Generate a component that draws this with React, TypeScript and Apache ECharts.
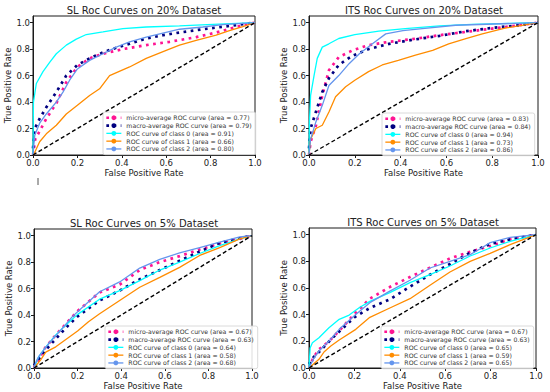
import React, { useEffect, useRef } from 'react';
import * as echarts from 'echarts';

const FONT = 'DejaVu Sans';

const panelTitles = [
  'SL Roc Curves on 20% Dataset',
  'ITS Roc Curves on 20% Dataset',
  'SL Roc Curves on 5% Dataset',
  'ITS Roc Curves on 5% Dataset',
];
const tickValues = [0, 0.2, 0.4, 0.6, 0.8, 1.0];
const xAxisName = 'False Positive Rate';
const yAxisName = 'True Positive Rate';
const curveLabels = [
  'micro-average ROC curve',
  'macro-average ROC curve',
  'ROC curve of class 0',
  'ROC curve of class 1',
  'ROC curve of class 2',
];

const areasSL20 = [0.77, 0.79, 0.91, 0.66, 0.8];
const areasITS20 = [0.83, 0.84, 0.94, 0.73, 0.86];
const areasSL5 = [0.67, 0.63, 0.64, 0.58, 0.68];
const areasITS5 = [0.67, 0.63, 0.65, 0.59, 0.65];

// SL, 20% dataset
const sl20Micro = [[0, 0], [0.005, 0.06], [0.01, 0.12], [0.03, 0.18], [0.06, 0.275], [0.105, 0.39], [0.15, 0.55], [0.2, 0.665], [0.255, 0.73], [0.315, 0.765], [0.405, 0.8], [0.51, 0.83], [0.615, 0.855], [0.735, 0.89], [0.825, 0.925], [0.915, 0.967], [1, 1]];
const sl20Macro = [[0, 0.05], [0.008, 0.2], [0.03, 0.275], [0.06, 0.36], [0.105, 0.475], [0.15, 0.6], [0.2, 0.68], [0.255, 0.73], [0.315, 0.775], [0.375, 0.81], [0.435, 0.84], [0.51, 0.88], [0.585, 0.905], [0.66, 0.925], [0.765, 0.95], [0.885, 0.975], [1, 1]];
const sl20Class0 = [[0, 0], [0.002, 0.4], [0.015, 0.54], [0.045, 0.63], [0.075, 0.7], [0.105, 0.765], [0.15, 0.83], [0.195, 0.875], [0.24, 0.91], [0.315, 0.93], [0.405, 0.955], [0.51, 0.967], [0.66, 0.975], [0.81, 0.987], [1, 1]];
const sl20Class1 = [[0, 0], [0.008, 0.02], [0.03, 0.1], [0.06, 0.16], [0.105, 0.225], [0.15, 0.31], [0.2, 0.375], [0.255, 0.45], [0.3, 0.5], [0.345, 0.6], [0.435, 0.665], [0.51, 0.73], [0.6, 0.79], [0.66, 0.83], [0.735, 0.866], [0.825, 0.905], [0.885, 0.94], [0.945, 0.97], [1, 1]];
const sl20Class2 = [[0, 0], [0.005, 0.1], [0.008, 0.15], [0.03, 0.24], [0.06, 0.31], [0.105, 0.4], [0.135, 0.475], [0.165, 0.565], [0.2, 0.65], [0.255, 0.715], [0.315, 0.765], [0.375, 0.815], [0.435, 0.855], [0.51, 0.89], [0.585, 0.92], [0.66, 0.95], [0.765, 0.967], [0.855, 0.985], [1, 1]];

// ITS, 20% dataset
const its20Micro = [[0, 0], [0.007, 0.1], [0.03, 0.22], [0.058, 0.45], [0.087, 0.64], [0.13, 0.74], [0.19, 0.79], [0.26, 0.83], [0.35, 0.855], [0.45, 0.875], [0.57, 0.905], [0.685, 0.93], [0.8, 0.955], [0.917, 0.98], [1, 1]];
const its20Macro = [[0, 0.05], [0.007, 0.2], [0.03, 0.325], [0.058, 0.475], [0.087, 0.58], [0.13, 0.68], [0.19, 0.75], [0.26, 0.8], [0.35, 0.84], [0.45, 0.87], [0.57, 0.9], [0.685, 0.935], [0.8, 0.96], [0.917, 0.98], [1, 1]];
const its20Class0 = [[0, 0], [0.002, 0.25], [0.007, 0.45], [0.022, 0.6], [0.036, 0.73], [0.058, 0.815], [0.087, 0.84], [0.13, 0.88], [0.2, 0.91], [0.305, 0.935], [0.42, 0.955], [0.57, 0.975], [0.71, 0.987], [1, 1]];
const its20Class1 = [[0, 0], [0.007, 0.12], [0.03, 0.2], [0.058, 0.225], [0.087, 0.325], [0.116, 0.44], [0.16, 0.515], [0.2, 0.565], [0.26, 0.63], [0.32, 0.68], [0.39, 0.715], [0.465, 0.755], [0.54, 0.79], [0.61, 0.84], [0.685, 0.88], [0.757, 0.915], [0.86, 0.96], [0.93, 0.98], [1, 1]];
const its20Class2 = [[0, 0], [0.007, 0.12], [0.03, 0.25], [0.058, 0.375], [0.087, 0.525], [0.13, 0.6], [0.175, 0.69], [0.22, 0.765], [0.277, 0.84], [0.335, 0.915], [0.41, 0.94], [0.495, 0.955], [0.64, 0.98], [1, 1]];

// SL, 5% dataset
const sl5Micro = [[0, 0], [0.05, 0.15], [0.1, 0.25], [0.15, 0.34], [0.2, 0.43], [0.3, 0.57], [0.393, 0.63], [0.485, 0.74], [0.577, 0.8], [0.668, 0.845], [0.76, 0.895], [0.852, 0.94], [0.944, 0.975], [1, 1]];
const sl5Macro = [[0, 0.02], [0.05, 0.13], [0.1, 0.22], [0.15, 0.31], [0.2, 0.39], [0.301, 0.51], [0.393, 0.585], [0.485, 0.67], [0.577, 0.74], [0.668, 0.81], [0.76, 0.88], [0.852, 0.945], [0.944, 0.98], [1, 1]];
const sl5Class0 = [[0, 0], [0.02, 0.08], [0.05, 0.15], [0.1, 0.25], [0.15, 0.33], [0.2, 0.405], [0.301, 0.52], [0.393, 0.585], [0.485, 0.66], [0.577, 0.74], [0.668, 0.8], [0.76, 0.865], [0.852, 0.925], [0.944, 0.975], [1, 1]];
const sl5Class1 = [[0, 0], [0.03, 0.06], [0.054, 0.12], [0.1, 0.16], [0.2, 0.28], [0.25, 0.35], [0.301, 0.41], [0.393, 0.51], [0.485, 0.61], [0.577, 0.685], [0.668, 0.76], [0.76, 0.85], [0.852, 0.91], [0.944, 0.975], [1, 1]];
const sl5Class2 = [[0, 0], [0.01, 0.05], [0.023, 0.09], [0.07, 0.19], [0.12, 0.28], [0.177, 0.39], [0.23, 0.47], [0.301, 0.576], [0.393, 0.65], [0.454, 0.72], [0.485, 0.755], [0.577, 0.82], [0.668, 0.87], [0.76, 0.91], [0.852, 0.95], [0.944, 0.99], [1, 1]];

// ITS, 5% dataset
const its5Micro = [[0, 0], [0.02, 0.08], [0.044, 0.14], [0.088, 0.2], [0.133, 0.28], [0.206, 0.415], [0.268, 0.52], [0.356, 0.607], [0.445, 0.683], [0.533, 0.753], [0.621, 0.822], [0.71, 0.872], [0.798, 0.915], [0.886, 0.965], [1, 1]];
const its5Macro = [[0, 0.03], [0.02, 0.08], [0.044, 0.12], [0.1, 0.22], [0.2, 0.38], [0.268, 0.45], [0.356, 0.515], [0.445, 0.61], [0.533, 0.7], [0.621, 0.78], [0.71, 0.865], [0.798, 0.93], [0.886, 0.965], [1, 1]];
const its5Class0 = [[0, 0], [0.005, 0.15], [0.015, 0.19], [0.044, 0.227], [0.088, 0.302], [0.133, 0.365], [0.177, 0.397], [0.221, 0.452], [0.268, 0.5], [0.356, 0.565], [0.445, 0.64], [0.533, 0.7], [0.621, 0.765], [0.71, 0.84], [0.798, 0.9], [0.886, 0.95], [1, 1]];
const its5Class1 = [[0, 0], [0.02, 0.03], [0.044, 0.065], [0.066, 0.12], [0.096, 0.165], [0.133, 0.21], [0.206, 0.29], [0.268, 0.38], [0.356, 0.45], [0.445, 0.52], [0.533, 0.62], [0.621, 0.72], [0.71, 0.8], [0.798, 0.86], [0.886, 0.925], [1, 1]];
const its5Class2 = [[0, 0], [0.02, 0.07], [0.044, 0.127], [0.088, 0.202], [0.133, 0.29], [0.206, 0.402], [0.268, 0.49], [0.356, 0.577], [0.445, 0.658], [0.533, 0.75], [0.621, 0.8], [0.71, 0.85], [0.73, 0.87], [0.76, 0.9], [0.798, 0.94], [0.886, 0.98], [1, 1]];

const chanceLine = [[0, 0], [1, 1]];

const panelCurves = [
  [sl20Micro, sl20Macro, sl20Class0, sl20Class1, sl20Class2],
  [its20Micro, its20Macro, its20Class0, its20Class1, its20Class2],
  [sl5Micro, sl5Macro, sl5Class0, sl5Class1, sl5Class2],
  [its5Micro, its5Macro, its5Class0, its5Class1, its5Class2],
];
const panelAreas = [areasSL20, areasITS20, areasSL5, areasITS5];

// layout (positions/sizes)
const layouts = [
  { grid: { left: 33, top: 16, width: 222, height: 139 }, title: [144, 10], legend: { left: 103, top: 112 }, yGap: 20 },
  { grid: { left: 309, top: 16, width: 229, height: 139 }, title: [424, 10], legend: { left: 382, top: 113 }, yGap: 21 },
  { grid: { left: 34, top: 229, width: 218, height: 139 }, title: [144, 223], legend: { left: 105, top: 326 }, yGap: 18 },
  { grid: { left: 309, top: 228, width: 227, height: 140 }, title: [423, 222], legend: { left: 381, top: 326 }, yGap: 20 },
];

const curveStyles = [
  { color: '#ff1493', width: 2.7, type: [2.7, 4.5] as any },
  { color: '#000080', width: 2.7, type: [2.7, 4.5] as any },
  { color: '#00ffff', width: 1.3, type: 'solid' as any },
  { color: '#ff8c00', width: 1.3, type: 'solid' as any },
  { color: '#6495ed', width: 1.3, type: 'solid' as any },
];

const fmt = (v: number) => v.toFixed(1);

export default function App() {
  const ref = useRef<HTMLDivElement>(null);
  useEffect(() => {
    document.body.style.margin = '0';
    if (!ref.current) return;
    const chart = echarts.init(ref.current, null, { renderer: 'svg' });
    const grids: any[] = [];
    const xAxes: any[] = [];
    const yAxes: any[] = [];
    const legends: any[] = [];
    const series: any[] = [];
    const graphics: any[] = [];

    layouts.forEach((L, i) => {
      grids.push({ ...L.grid, show: true, borderColor: '#1a1a1a', borderWidth: 1, backgroundColor: '#fff', containLabel: false });
      xAxes.push({
        type: 'value', gridIndex: i, min: 0, max: 1, interval: 0.2,
        name: xAxisName, nameLocation: 'middle', nameGap: 13,
        nameTextStyle: { fontSize: 8.5, fontFamily: FONT, color: '#222' },
        axisLine: { show: true, lineStyle: { color: '#1a1a1a', width: 1 } },
        axisTick: { show: true, length: 3, lineStyle: { color: '#1a1a1a' } },
        axisLabel: { fontSize: 8.5, fontFamily: FONT, color: '#222', margin: 3.5, formatter: fmt },
        splitLine: { show: false },
      });
      yAxes.push({
        type: 'value', gridIndex: i, min: 0, max: 1.05, interval: 0.2,
        name: yAxisName, nameLocation: 'middle', nameGap: L.yGap,
        nameTextStyle: { fontSize: 8.5, fontFamily: FONT, color: '#222' },
        axisLine: { show: true, lineStyle: { color: '#1a1a1a', width: 1 } },
        axisTick: { show: true, length: 3, lineStyle: { color: '#1a1a1a' }, customValues: tickValues },
        axisLabel: { fontSize: 8.5, fontFamily: FONT, color: '#222', margin: 3, formatter: fmt, customValues: tickValues },
        splitLine: { show: false },
      });
      const names = curveLabels.map((c, k) => `${c} (area = ${panelAreas[i][k].toFixed(2)})`);
      panelCurves[i].forEach((data, k) => {
        const s = curveStyles[k];
        series.push({
          type: 'line', name: names[k], xAxisIndex: i, yAxisIndex: i, data,
          symbol: 'none', showSymbol: false, silent: true,
          lineStyle: { color: s.color, width: s.width, type: s.type },
          itemStyle: { color: s.color },
        });
      });
      series.push({
        type: 'line', name: `chance-${i}`, xAxisIndex: i, yAxisIndex: i, data: chanceLine,
        symbol: 'none', showSymbol: false, silent: true,
        lineStyle: { color: '#000', width: 1.4, type: [4, 2.5] },
      });
      legends.push({
        orient: 'vertical', left: L.legend.left, top: L.legend.top,
        itemWidth: 15, itemHeight: 6, itemGap: 1.3, padding: [2.5, 4, 2.5, 2],
        backgroundColor: 'rgba(255,255,255,0.85)', borderColor: '#d0d0d0', borderWidth: 0.8, borderRadius: 2,
        textStyle: { fontSize: 6.2, fontFamily: FONT, color: '#333', lineHeight: 6.5 },
        selectedMode: false,
        data: names.map((n, k) => ({
          name: n,
          lineStyle: { width: curveStyles[k].width, type: curveStyles[k].type, color: curveStyles[k].color },
        })),
      });
      graphics.push({
        type: 'text', x: L.title[0], y: L.title[1],
        style: { text: panelTitles[i], fontSize: 10, fontWeight: 'normal', fontFamily: FONT, fill: '#222', align: 'center', verticalAlign: 'middle' },
      });
    });
    graphics.push({ type: 'line', shape: { x1: 38, y1: 178, x2: 38, y2: 185 }, style: { stroke: '#555', lineWidth: 1 } });

    chart.setOption({
      animation: false,
      backgroundColor: '#fff',
      grid: grids,
      xAxis: xAxes,
      yAxis: yAxes,
      legend: legends,
      series,
      graphic: graphics,
    });
    return () => chart.dispose();
  }, []);
  return <div ref={ref} style={{ position: 'fixed', left: 0, top: 0, width: 550, height: 392 }} />;
}
